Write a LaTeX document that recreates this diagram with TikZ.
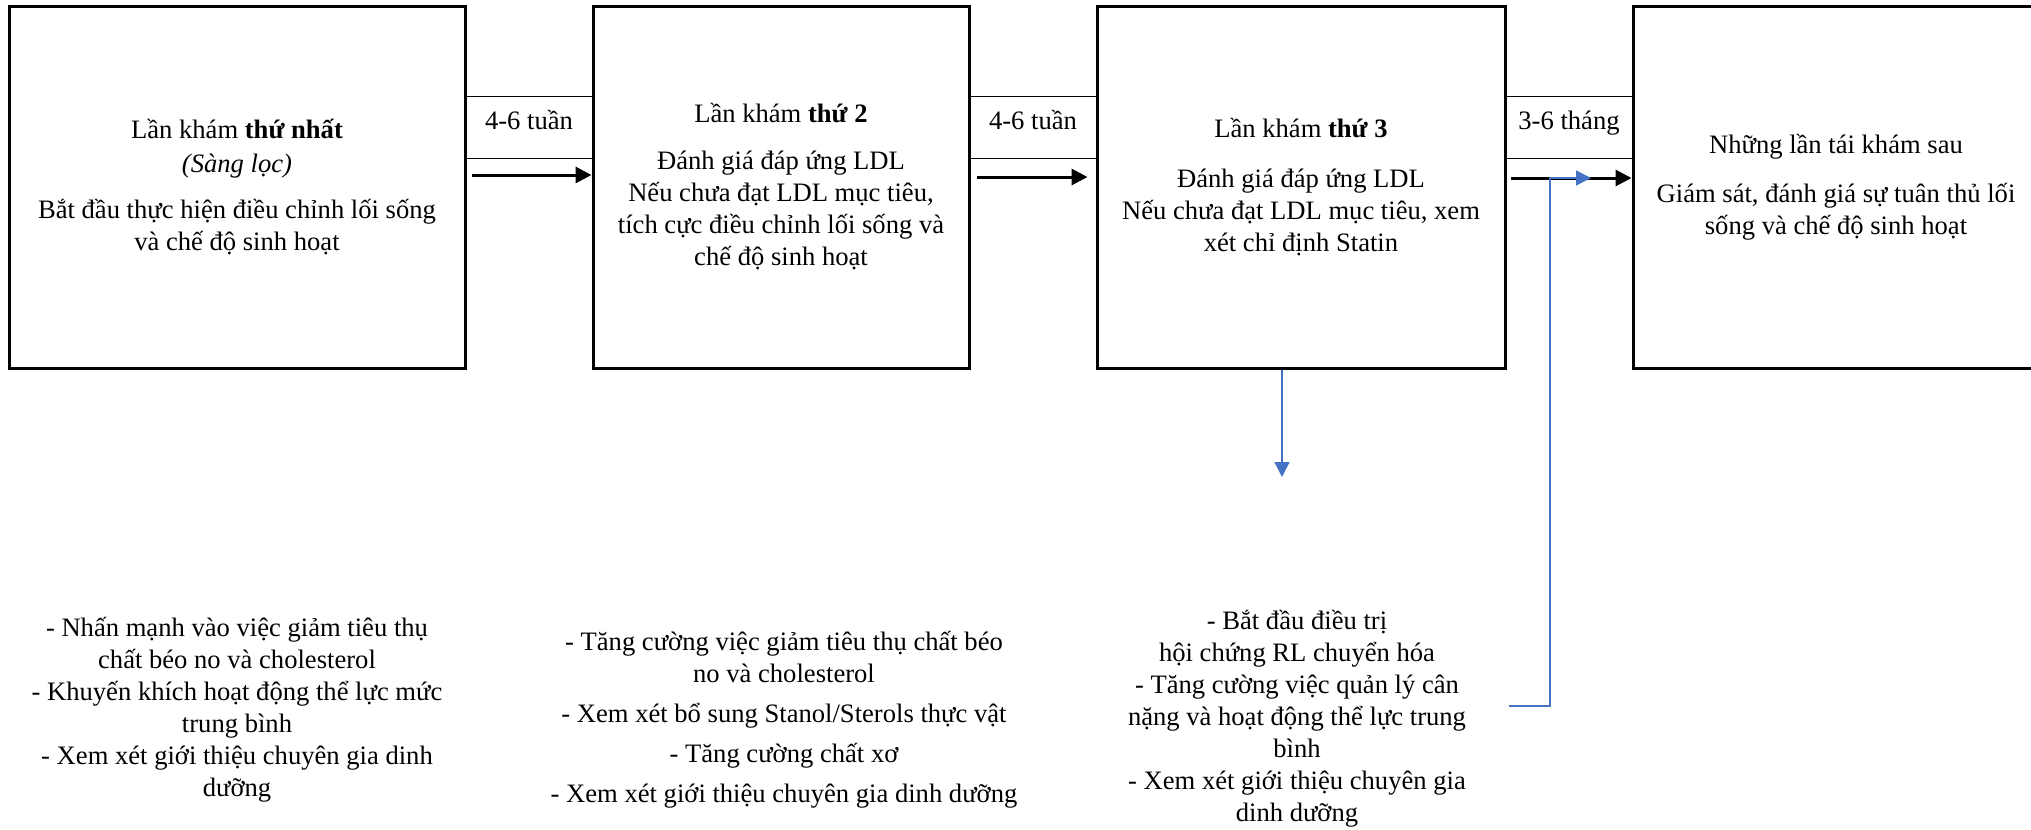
\documentclass[tikz,border=0pt]{standalone}
\usepackage{fontspec}
\setmainfont{Liberation Serif}
\usetikzlibrary{arrows.meta,calc}
\definecolor{linkblue}{RGB}{68,114,196}
\begin{document}
\begin{tikzpicture}[x=0.5pt,y=-0.5pt,
  txt/.style={font=\fontsize{13.3}{16}\selectfont, align=center, inner sep=0pt},
  visit/.style={draw, line width=1.5pt, rectangle, minimum height=181pt, txt},
  intervalbox/.style={draw, line width=0.5pt, rectangle, minimum width=64pt, minimum height=31pt,
                      txt, text height=9pt, text depth=7pt},
  flow/.style={-{Triangle[length=8pt,width=8pt]}, line width=1.5pt},
  bluearrow/.style={-{Triangle[length=7.5pt,width=7.5pt]}, line width=0.65pt, draw=linkblue}]
\useasboundingbox (0,0) rectangle (2031,830);

% interval labels between the visits
\node[intervalbox] (g1) at (529,127) {4-6 tuần};
\node[intervalbox] (g2) at (1033,127) {4-6 tuần};
\node[intervalbox] (g3) at (1569,127) {3-6 tháng};

% the four visits
\node[visit, minimum width=228pt] (b1) at (237,187)
  {Lần khám \textbf{thứ nhất}\\[1pt] \textit{(Sàng lọc)}\\[7pt]
   Bắt đầu thực hiện điều chỉnh lối sống\\ và chế độ sinh hoạt};
\node[visit, minimum width=188pt] (b2) at (781,187)
  {Lần khám \textbf{thứ 2}\\[7.5pt] Đánh giá đáp ứng LDL\\ Nếu chưa đạt LDL mục tiêu,\\
   tích cực điều chỉnh lối sống và\\ chế độ sinh hoạt};
\node[visit, minimum width=204pt] (b3) at (1301,187)
  {Lần khám \textbf{thứ 3}\\[9pt] Đánh giá đáp ứng LDL\\ Nếu chưa đạt LDL mục tiêu, xem\\
   xét chỉ định Statin};
\node[visit, minimum width=203pt] (b4) at (1836,187)
  {Những lần tái khám sau\\[8.5pt] Giám sát, đánh giá sự tuân thủ lối\\ sống và chế độ sinh hoạt};

% recommendations under each visit
\node[txt] (n1) at (237,710)
  {- Nhấn mạnh vào việc giảm tiêu thụ\\ chất béo no và cholesterol\\
   - Khuyến khích hoạt động thể lực mức\\ trung bình\\
   - Xem xét giới thiệu chuyên gia dinh\\ dưỡng};
\node[txt] (n2) at (784,720)
  {- Tăng cường việc giảm tiêu thụ chất béo\\ no và cholesterol\\[4pt]
   - Xem xét bổ sung Stanol/Sterols thực vật\\[4pt]
   - Tăng cường chất xơ\\[4pt]
   - Xem xét giới thiệu chuyên gia dinh dưỡng};
\node[txt] (n3) at (1297,719)
  {- Bắt đầu điều trị\\ hội chứng RL chuyển hóa\\
   - Tăng cường việc quản lý cân\\ nặng và hoạt động thể lực trung\\ bình\\
   - Xem xét giới thiệu chuyên gia\\ dinh dưỡng};

% timeline arrows
\draw[flow] ($(b1.east)+(5,-12)$) -- ($(b2.west)+(0,-12)$);
\draw[flow] ($(b2.east)+(6,-10)$) -- ($(b3.west)+(-8,-10)$);
\draw[flow] ($(b3.east)+(4,-9)$) -- ($(b4.west)+(0,-9)$);

% blue connectors
\coordinate (d3) at (1282,477);
\draw[bluearrow] (d3 |- b3.south) -- (d3);
\coordinate (r0) at (1509,706);
\coordinate (r1) at (1550,706);
\coordinate (rt) at (1591,178);
\draw[bluearrow] (r0) -- (r1) |- (rt);
\end{tikzpicture}
\end{document}
